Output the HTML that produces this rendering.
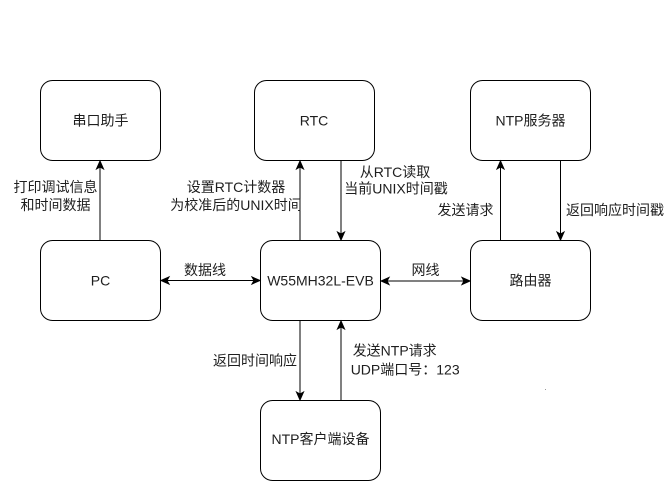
<!DOCTYPE html>
<html>
<head>
<meta charset="utf-8">
<style>
  html,body{margin:0;padding:0;background:#fff;}
  svg{display:block;}
  text{font-family:"Liberation Sans","Noto Sans CJK SC",sans-serif;font-size:14px;fill:#1e1e1e;}
</style>
</head>
<body>
<svg width="671" height="481" viewBox="0 0 671 481" xmlns="http://www.w3.org/2000/svg">
  <rect x="0" y="0" width="671" height="481" fill="#fff"/>
  <g fill="#fff" stroke="#000" stroke-width="1">
    <rect x="40.5" y="80.5" width="120" height="80" rx="12" ry="12"/>
    <rect x="254.5" y="80.5" width="120" height="80" rx="12" ry="12"/>
    <rect x="470.5" y="80.5" width="120" height="80" rx="12" ry="12"/>
    <rect x="40.5" y="240.5" width="120" height="80" rx="12" ry="12"/>
    <rect x="260.5" y="240.5" width="120" height="80" rx="12" ry="12"/>
    <rect x="470.5" y="240.5" width="120" height="80" rx="12" ry="12"/>
    <rect x="260.5" y="400.5" width="120" height="80" rx="12" ry="12"/>
  </g>

  <g stroke="#000" stroke-width="1" fill="none">
    <!-- PC -> 串口助手 -->
    <line x1="100" y1="240" x2="100" y2="167"/>
    <!-- W55 -> RTC -->
    <line x1="300" y1="240" x2="300" y2="167"/>
    <!-- RTC -> W55 -->
    <line x1="341" y1="161" x2="341" y2="234"/>
    <!-- 路由器 -> NTP server -->
    <line x1="500.5" y1="240" x2="500.5" y2="167"/>
    <!-- NTP server -> 路由器 -->
    <line x1="560.5" y1="161" x2="560.5" y2="234"/>
    <!-- PC <-> W55 -->
    <line x1="167" y1="280.5" x2="254" y2="280.5"/>
    <!-- W55 <-> 路由器 -->
    <line x1="387" y1="281" x2="464" y2="281"/>
    <!-- W55 -> client -->
    <line x1="300" y1="321" x2="300" y2="394"/>
    <!-- client -> W55 -->
    <line x1="341" y1="400" x2="341" y2="327"/>
  </g>

  <g fill="#000" stroke="#000" stroke-width="1" stroke-linejoin="miter">
    <!-- up arrows -->
    <polygon points="100,161 103.5,169 100,167 96.5,169"/>
    <polygon points="300,161 303.5,169 300,167 296.5,169"/>
    <polygon points="500.5,161 504,169 500.5,167 497,169"/>
    <polygon points="341,321 344.5,329 341,327 337.5,329"/>
    <!-- down arrows -->
    <polygon points="341,240 344.5,232 341,234 337.5,232"/>
    <polygon points="560.5,240 564,232 560.5,234 557,232"/>
    <polygon points="300,400 303.5,392 300,394 296.5,392"/>
    <!-- horizontal -->
    <polygon points="161,280.5 169,277 167,280.5 169,284"/>
    <polygon points="260,280.5 252,277 254,280.5 252,284"/>
    <polygon points="381,281 389,277.5 387,281 389,284.5"/>
    <polygon points="470,281 462,277.5 464,281 462,284.5"/>
  </g>

  <rect x="545" y="389" width="1" height="1" fill="#999"/>

  <g text-anchor="middle" dominant-baseline="central">
    <text x="100.5" y="120.5">串口助手</text>
    <text x="314" y="120.5">RTC</text>
    <text x="530.5" y="120.5">NTP服务器</text>
    <text x="100.5" y="280.5">PC</text>
    <text x="320.5" y="280.5">W55MH32L-EVB</text>
    <text x="530.5" y="280.5">路由器</text>
    <text x="320.5" y="439">NTP客户端设备</text>

    <text x="55.5" y="187">打印调试信息</text>
    <text x="55.5" y="205">和时间数据</text>
    <text x="236" y="187">设置RTC计数器</text>
    <text x="236" y="205">为校准后的UNIX时间</text>
    <text x="395" y="172">从RTC读取</text>
    <text x="396" y="188.5">当前UNIX时间戳</text>
    <text x="465.5" y="210">发送请求</text>
    <text x="615" y="210">返回响应时间戳</text>
    <text x="205" y="270">数据线</text>
    <text x="425.5" y="270">网线</text>
    <text x="255" y="360.5">返回时间响应</text>
  </g>
  <g dominant-baseline="central">
    <text x="352.7" y="350.7">发送NTP请求</text>
    <text x="350.7" y="369.5">UDP端口号：123</text>
  </g>
</svg>
</body>
</html>
